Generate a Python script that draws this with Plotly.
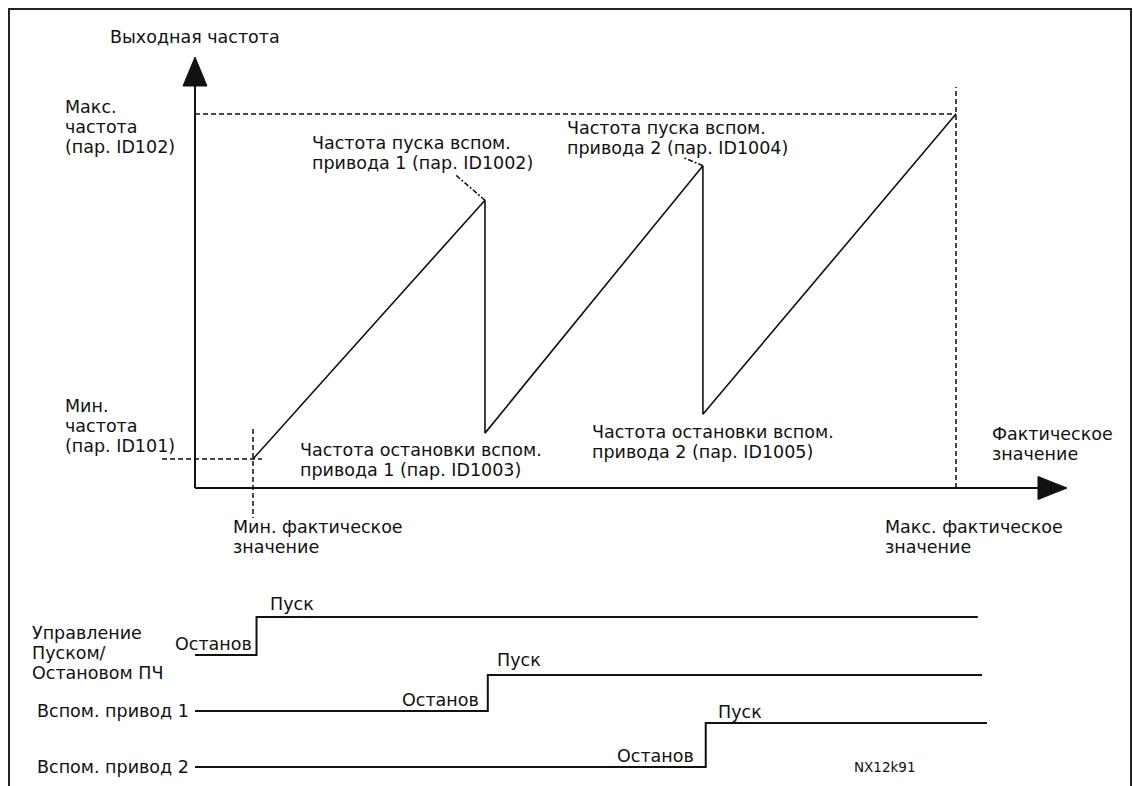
import plotly.graph_objects as go

W, H = 1133, 786

# ---------------- data ----------------
# actual value in % of the range [min actual .. max actual]
saw_actual = [0, 33, 33, 64, 64, 100]
# output frequency in % of the range [min freq .. max freq]
saw_freq = [0, 75, 7.5, 85, 13, 100]
actual_limits = [0, 100]      # min / max actual value
freq_limits = [0, 100]        # min / max output frequency
peak_index = [1, 3]           # start-frequency points of aux drives 1 and 2

signal_names = [["Управление", "Пуском/", "Остановом ПЧ"], ["Вспом. привод 1"], ["Вспом. привод 2"]]
signal_switch = [0.5, 33.4, 64.4]   # actual value where the signal goes Stop -> Start
signal_end = [103.1, 103.7, 104.4]
state_labels = ["Останов", "Пуск"]

# ---------------- geometry / style ----------------
X0, XS = 253, 7.03     # pixel of actual=0, px per unit
Y0, YS = 459, 3.45     # pixel of freq=0, px per unit
R0, RS = 655, 56       # pixel of signal row 0 baseline, px per row
STEP_H = [38 / 56, 36 / 56, 44 / 56]
LS = 20                # text line spacing, px

def dx(px):
    return (px - X0) / XS

def dy(py):
    return (Y0 - py) / YS

def px2paper(px, py):
    return px / W, 1 - py / H

FS = 17.5
FONT = dict(family="DejaVu Sans", size=FS, color="#111")
INK = "#111"

ax_x0 = dx(195)
ax_y0 = dy(488)

fig = go.Figure()

def line(x, y, width=1.5, dash="solid", yaxis="y", color=INK):
    fig.add_trace(go.Scatter(x=x, y=y, mode="lines", yaxis=yaxis,
                             line=dict(color=color, width=width, dash=dash),
                             hoverinfo="skip", showlegend=False))

# axes
line([ax_x0, ax_x0], [ax_y0, dy(86)], width=2)
line([ax_x0, dx(1040)], [ax_y0, ax_y0], width=2)
# arrowheads
fig.add_trace(go.Scatter(x=[ax_x0 - 12 / XS, ax_x0 + 12 / XS, ax_x0, ax_x0 - 12 / XS],
                         y=[dy(86), dy(86), dy(57), dy(86)], mode="lines", fill="toself",
                         fillcolor=INK, line=dict(color=INK, width=1), hoverinfo="skip",
                         showlegend=False))
fig.add_trace(go.Scatter(x=[dx(1038), dx(1038), dx(1067), dx(1038)],
                         y=[ax_y0 + 11.5 / YS, ax_y0 - 11.5 / YS, ax_y0, ax_y0 + 11.5 / YS],
                         mode="lines", fill="toself", fillcolor=INK,
                         line=dict(color=INK, width=1), hoverinfo="skip", showlegend=False))

# reference dashed lines
DASH = "5px,3px"
line([ax_x0, actual_limits[1]], [freq_limits[1], freq_limits[1]], dash=DASH)
line([actual_limits[1], actual_limits[1]], [ax_y0, dy(87)], dash=DASH)
line([dx(162), dx(262)], [freq_limits[0], freq_limits[0]], dash=DASH)
line([actual_limits[0], actual_limits[0]], [dy(429), dy(518)], dash=DASH)

# sawtooth
line(saw_actual, saw_freq, width=1.6)

# leader lines from peaks to their labels
leader_off = [(-29, 25), (-19, 8)]
for k, (ox, oy) in zip(peak_index, leader_off):
    line([saw_actual[k], saw_actual[k] + ox / XS], [saw_freq[k], saw_freq[k] + oy / YS],
         width=1.5, dash="5px,2px,2px,2px")

# logic signals
for i, (sw, end) in enumerate(zip(signal_switch, signal_end)):
    base = -i
    hi = base + STEP_H[i]
    line([ax_x0, sw, sw, end], [base, base, hi, hi], width=2, yaxis="y2")

annotations = []

def text(lines, px, py, xanchor="left", size=FS):
    if isinstance(lines, str):
        lines = [lines]
    for j, t in enumerate(lines):
        x, y = px2paper(px, py + j * LS)
        annotations.append(dict(text=t, x=x, y=y, xref="paper", yref="paper",
                                xanchor=xanchor, yanchor="middle", showarrow=False,
                                font=dict(FONT, size=size)))

text("Выходная частота", 108, 37)
text(["Макс.", "частота", "(пар. ID102)"], 63, 107)
text(["Частота пуска вспом.", "привода 1 (пар. ID1002)"], 310, 143)
text(["Частота пуска вспом.", "привода 2 (пар. ID1004)"], 565, 128)
text(["Мин.", "частота", "(пар. ID101)"], 63, 406)
text(["Частота остановки вспом.", "привода 1 (пар. ID1003)"], 298, 450)
text(["Частота остановки вспом.", "привода 2 (пар. ID1005)"], 590, 432)
text(["Фактическое", "значение"], 990, 434)
text(["Мин. фактическое", "значение"], 231, 527)
text(["Макс. фактическое", "значение"], 883, 527)
text(signal_names[0], 30, 633)
text(signal_names[1], 191, R0 + RS * 1, xanchor="right")
text(signal_names[2], 191, R0 + RS * 2, xanchor="right")
text("NX12k91", 852, 767, size=13.5)

# state labels next to each switching edge
stop_shift = [(-3, 11), (-7, 11), (-10, 11)]
start_shift = [(11, 13), (7, 15), (10, 11)]
for i, sw in enumerate(signal_switch):
    base = -i
    hi = base + STEP_H[i]
    annotations.append(dict(text=state_labels[0], x=sw, y=base, xref="x", yref="y2",
                            xanchor="right", yanchor="middle", showarrow=False,
                            xshift=stop_shift[i][0], yshift=stop_shift[i][1], font=FONT))
    annotations.append(dict(text=state_labels[1], x=sw, y=hi, xref="x", yref="y2",
                            xanchor="left", yanchor="middle", showarrow=False,
                            xshift=start_shift[i][0], yshift=start_shift[i][1], font=FONT))

# outer frame
fl, ft = px2paper(9, 9)
fr, fb = px2paper(1131, 790)
shapes = [dict(type="path", xref="paper", yref="paper",
               path=f"M {fl} {fb} L {fl} {ft} L {fr} {ft} L {fr} {fb}",
               line=dict(color="#222", width=2))]

fig.update_layout(
    width=W, height=H,
    margin=dict(l=0, r=0, t=0, b=0),
    paper_bgcolor="white", plot_bgcolor="white",
    showlegend=False, hovermode=False,
    xaxis=dict(range=[dx(0), dx(W)], visible=False, fixedrange=True),
    yaxis=dict(range=[dy(H), dy(0)], visible=False, fixedrange=True),
    yaxis2=dict(range=[(R0 - H) / RS, R0 / RS], visible=False, fixedrange=True,
                overlaying="y", anchor="x"),
    annotations=annotations,
    shapes=shapes,
)

fig.write_html("out.html", config={"displayModeBar": False},
               post_script="document.body.style.margin='0';document.body.style.overflow='hidden';")
